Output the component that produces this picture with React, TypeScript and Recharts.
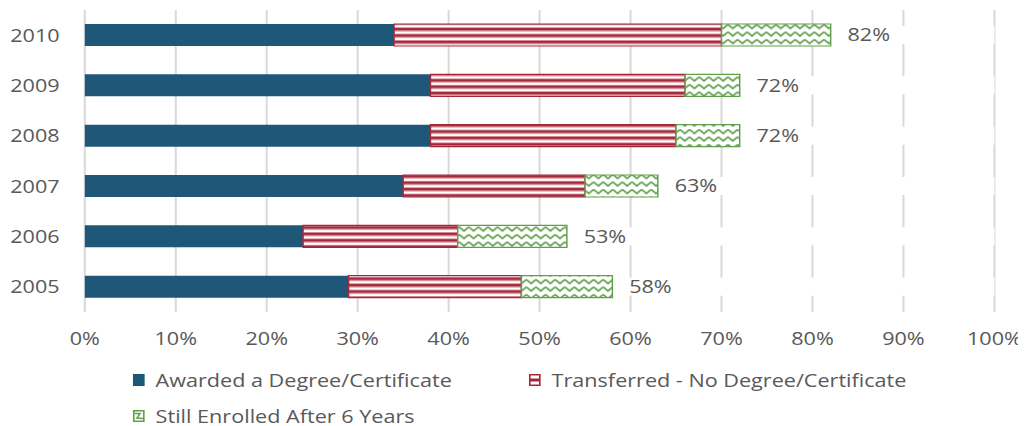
import React from 'react';
import { BarChart, Bar, XAxis, YAxis, CartesianGrid, Legend, LabelList } from 'recharts';

const years = ['2010', '2009', '2008', '2007', '2006', '2005'];
const awarded = [34, 38, 38, 35, 24, 29];
const transferred = [36, 28, 27, 20, 17, 19];
const stillEnrolled = [12, 6, 7, 8, 12, 10];
const totalLabels = ['82%', '72%', '72%', '63%', '53%', '58%'];
const xTicks = [0, 10, 20, 30, 40, 50, 60, 70, 80, 90, 100];
const seriesNames = [
  'Awarded a Degree/Certificate',
  'Transferred - No Degree/Certificate',
  'Still Enrolled After 6 Years',
];

const BLUE = '#1f5779';
const RED = '#a6273a';
const GREEN = '#5f9f4b';
const TEXT = '#595959';
const GRID = '#d9d9d9';
const FONT = "'Open Sans', sans-serif";

const S = 1.2; // horizontal stretch of the reference rendering
const W = 848;
const H = 418;
const LEGEND_H = 84;

const data = years.map((y, i) => ({
  year: y,
  awarded: awarded[i],
  transferred: transferred[i],
  enrolled: stillEnrolled[i],
  total: totalLabels[i],
}));

const RowBackground = (props: any) => {
  const { x, y, width, height } = props;
  return <rect x={x} y={y + 2} width={width} height={Math.max(0, height - 4)} fill="#ffffff" />;
};

const TotalLabel = (props: any) => {
  const { x, y, width, height, value } = props;
  return (
    <text
      x={Number(x) + Number(width) + 14}
      y={Number(y) + Number(height) / 2}
      dy="0.355em"
      textAnchor="start"
      fill={TEXT}
      fontSize={18}
      fontFamily={FONT}
    >
      {value}
    </text>
  );
};

const LegendIcon = ({ fill, stroke }: { fill: string; stroke: string }) => (
  <svg width={10} height={12} style={{ position: 'absolute', left: 0, top: -6 }}>
    <rect x={0.75} y={0.75} width={8.5} height={10.5} fill={fill} stroke={stroke} strokeWidth={1.5} />
  </svg>
);

const legendItems = [
  { name: seriesNames[0], fill: BLUE, stroke: BLUE, left: 104, center: 38 },
  { name: seriesNames[1], fill: 'url(#legendRed)', stroke: RED, left: 434, center: 38 },
  { name: seriesNames[2], fill: 'url(#legendGreen)', stroke: GREEN, left: 104, center: 73.5 },
];

const CustomLegend = () => (
  <div style={{ position: 'relative', width: W, height: LEGEND_H, fontFamily: FONT }}>
    {legendItems.map((it) => (
      <div key={it.name} style={{ position: 'absolute', left: it.left, top: it.center, height: 0 }}>
        <LegendIcon fill={it.fill} stroke={it.stroke} />
        <span
          style={{
            position: 'absolute',
            left: 19,
            top: -13,
            lineHeight: '26px',
            fontSize: 18,
            color: TEXT,
            whiteSpace: 'nowrap',
          }}
        >
          {it.name}
        </span>
      </div>
    ))}
  </div>
);

export default function App() {
  return (
    <div style={{ width: W, height: H, transform: `scaleX(${S})`, transformOrigin: '0 0' }}>
      <BarChart
        width={W}
        height={H}
        data={data}
        layout="vertical"
        barSize={22}
        margin={{ top: 2, right: 26, left: 0, bottom: 0 }}
        style={{ fontFamily: FONT }}
      >
        <defs>
          <pattern id="redStripe" width="6" height="6.4" patternUnits="userSpaceOnUse">
            <rect x="0" y="0" width="6" height="6.4" fill="#ffffff" />
            <rect x="0" y="0" width="6" height="0.9" fill="#d98c96" />
            <rect x="0" y="0.9" width="6" height="2.5" fill={RED} />
            <rect x="0" y="3.4" width="6" height="0.9" fill="#d98c96" />
          </pattern>
          <pattern id="greenZig" width="8" height="7.5" patternUnits="userSpaceOnUse">
            <rect x="0" y="0" width="8" height="7.5" fill="#ffffff" />
            <polyline points="0,1.5 4,5.5 8,1.5" fill="none" stroke={GREEN} strokeWidth="1.6" />
          </pattern>
          <pattern id="legendRed" width="10" height="12" patternUnits="userSpaceOnUse">
            <rect x="0" y="0" width="10" height="12" fill="#ffffff" />
            <rect x="0" y="4.5" width="10" height="3" fill={RED} />
          </pattern>
          <pattern id="legendGreen" width="10" height="12" patternUnits="userSpaceOnUse">
            <rect x="0" y="0" width="10" height="12" fill="#ffffff" />
            <polyline points="1.5,3.5 6,3.5 3.5,8 8.5,8.5" fill="none" stroke={GREEN} strokeWidth="1.5" />
          </pattern>
        </defs>
        <CartesianGrid horizontal={false} vertical stroke={GRID} strokeWidth={1.7} />
        <XAxis
          type="number"
          domain={[0, 100]}
          ticks={xTicks}
          tickFormatter={(v: number) => `${v}%`}
          axisLine={false}
          tickLine={false}
          tickSize={0}
          tickMargin={20}
          interval={0}
          tick={{ fill: TEXT, fontSize: 18, fontFamily: FONT }}
        />
        <YAxis
          type="category"
          dataKey="year"
          width={64}
          axisLine={false}
          tickLine={false}
          tickSize={0}
          tickMargin={21}
          tick={{ fill: TEXT, fontSize: 18, fontFamily: FONT }}
        />
        <Legend
          verticalAlign="bottom"
          align="left"
          height={LEGEND_H}
          wrapperStyle={{ left: 0, width: W, height: LEGEND_H }}
          content={() => <CustomLegend />}
        />
        <Bar
          dataKey="awarded"
          name={seriesNames[0]}
          stackId="a"
          fill={BLUE}
          background={RowBackground}
          isAnimationActive={false}
        />
        <Bar
          dataKey="transferred"
          name={seriesNames[1]}
          stackId="a"
          fill="url(#redStripe)"
          stroke={RED}
          strokeWidth={1.2}
          isAnimationActive={false}
        />
        <Bar
          dataKey="enrolled"
          name={seriesNames[2]}
          stackId="a"
          fill="url(#greenZig)"
          stroke={GREEN}
          strokeWidth={1.2}
          isAnimationActive={false}
        >
          <LabelList dataKey="total" content={TotalLabel} />
        </Bar>
      </BarChart>
    </div>
  );
}
